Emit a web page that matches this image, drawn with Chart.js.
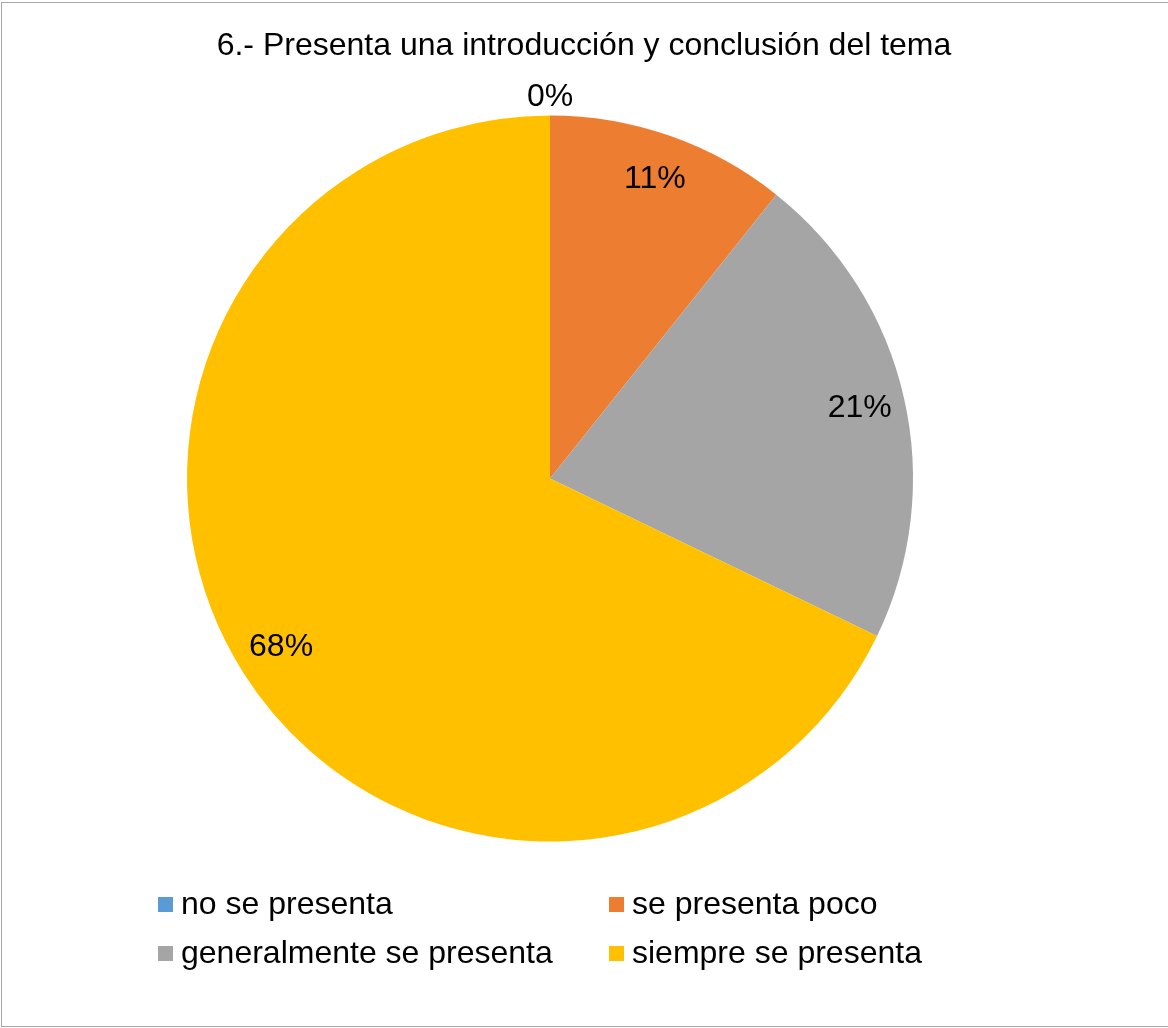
<!DOCTYPE html>
<html>
  <head>
    <meta charset="utf-8"/>
    <style type="text/css">
      body {
        margin: 0px;
        padding: 0px;
        background: #ffffff;
        font-family: 'Liberation Sans', Arial, sans-serif;
      }
      #frame {
        position: absolute;
        left: 1px;
        top: 2px;
        width: 1180px;
        height: 1023px;
        border: solid 1px #a6a6a6;
      }
      #title {
        position: absolute;
        left: 0;
        top: 25px;
        width: 1168px;
        text-align: center;
        font-size: 32px;
        line-height: 38px;
        color: #000;
      }
      #chart {
        position: absolute;
        left: 0;
        top: 0;
      }
      #legend .item {
        position: absolute;
        font-size: 32px;
        color: #000;
        white-space: nowrap;
        line-height: 38px;
      }
      #legend .box {
        display: inline-block;
        width: 15px;
        height: 15px;
        margin-right: 8px;
        vertical-align: 2px;
      }
    </style>
  </head>
  <body>
    <div id="frame"></div>
    <canvas id="chart" width="1168" height="1028"></canvas>
    <div id="title">6.- Presenta una introducción y conclusión del tema</div>
    <div id="legend"></div>
  </body>
  <script src="https://cdn.jsdelivr.net/npm/chart.js@4.4.1/dist/chart.umd.min.js"></script>
  <script>
    // respuestas (conteos) por categoria
    var categories = ['no se presenta', 'se presenta poco', 'generalmente se presenta', 'siempre se presenta'];
    var counts = [0, 3, 6, 19];
    var colors = ['#5b9bd5', '#ed7d31', '#a5a5a5', '#ffc000'];

    // porcentaje sobre cada sector
    var pctLabels = {
      id: 'pctLabels',
      afterDatasetsDraw: function(chart) {
        var ctx = chart.ctx;
        var meta = chart.getDatasetMeta(0);
        var total = counts.reduce(function(a, b) { return a + b; }, 0);
        ctx.save();
        ctx.font = '32px "Liberation Sans", Arial, sans-serif';
        ctx.fillStyle = '#000';
        ctx.textAlign = 'center';
        ctx.textBaseline = 'middle';
        meta.data.forEach(function(arc, i) {
          var p = arc.getProps(['x', 'y', 'startAngle', 'endAngle', 'outerRadius']);
          var mid = (p.startAngle + p.endAngle) / 2;
          var r = counts[i] === 0 ? p.outerRadius * 1.05 : p.outerRadius * 0.875;
          var txt = Math.round(counts[i] * 100 / total) + '%';
          ctx.fillText(txt, p.x + Math.cos(mid) * r, p.y + Math.sin(mid) * r);
        });
        ctx.restore();
      }
    };

    var chart = new Chart(document.getElementById('chart'), {
      type: 'pie',
      data: {
        labels: categories,
        datasets: [{
          data: counts,
          backgroundColor: colors,
          borderWidth: 0
        }]
      },
      options: {
        responsive: false,
        animation: false,
        layout: {
          padding: {left: 187, right: 255, top: 115, bottom: 186}
        },
        plugins: {
          legend: {display: false},
          title: {display: false},
          tooltip: {enabled: false}
        }
      },
      plugins: [pctLabels]
    });

    // leyenda en dos columnas
    var legendPos = [[158, 884], [609, 884], [158, 933], [609, 933]];
    var leg = document.getElementById('legend');
    chart.legend.legendItems.forEach(function(it, i) {
      var d = document.createElement('div');
      d.className = 'item';
      d.style.left = legendPos[i][0] + 'px';
      d.style.top = legendPos[i][1] + 'px';
      d.innerHTML = '<span class="box" style="background:' + it.fillStyle + '"></span>' + it.text;
      leg.appendChild(d);
    });
  </script>
</html>
